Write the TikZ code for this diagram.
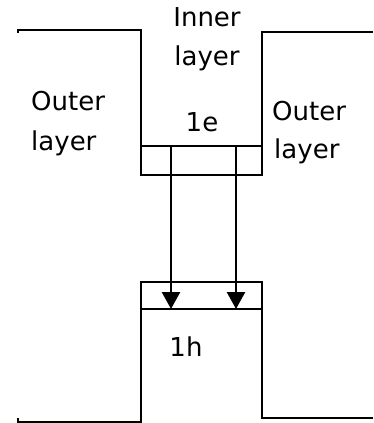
\documentclass[tikz,border=0pt]{standalone}
\usepackage{fontspec}
\setmainfont{DejaVu Sans}
\usetikzlibrary{arrows.meta}
\begin{document}
\begin{tikzpicture}[x=1pt,y=-1pt,
  wall/.style={line width=2.6pt,line join=miter},
  lbl/.style={font=\fontsize{26}{26}\selectfont,inner sep=0pt,anchor=base west,text=black},
  arr/.style={line width=2.6pt,-{Triangle[length=17pt,width=18pt]}}]
\useasboundingbox (0,0) rectangle (373,423);
% upper structure
\draw[wall] (18,33) -- (18,30) -- (141,30) -- (141,175) -- (262,175) -- (262,32) -- (373,32);
\draw[wall] (141,146) -- (262,146);
\draw[wall] (171,146) -- (171,175);
\draw[wall] (236,146) -- (236,175);
% lower structure
\draw[wall] (18,418) -- (18,422) -- (141,422) -- (141,282) -- (262,282) -- (262,418) -- (373,418);
\draw[wall] (141,309) -- (262,309);
% arrows
\coordinate (a1) at (171,146);
\coordinate (b1) at (171,309);
\coordinate (a2) at (236,146);
\coordinate (b2) at (236,309);
\draw[arr] (a1) -- (b1);
\draw[arr] (a2) -- (b2);
% labels
\node[lbl,anchor=base] (in1) at (207,27) {Inner};
\node[lbl,anchor=base] (in2) at (207,65) {layer};
\node[lbl] (ol1) at (31,110) {Outer};
\node[lbl] (ol2) at (31,150) {layer};
\node[lbl] (or1) at (272,120) {Outer};
\node[lbl] (or2) at (274,158) {layer};
\node[lbl,anchor=base] (e) at (202,131) {1e};
\node[lbl,anchor=base] (h) at (186,356) {1h};
\end{tikzpicture}
\end{document}
